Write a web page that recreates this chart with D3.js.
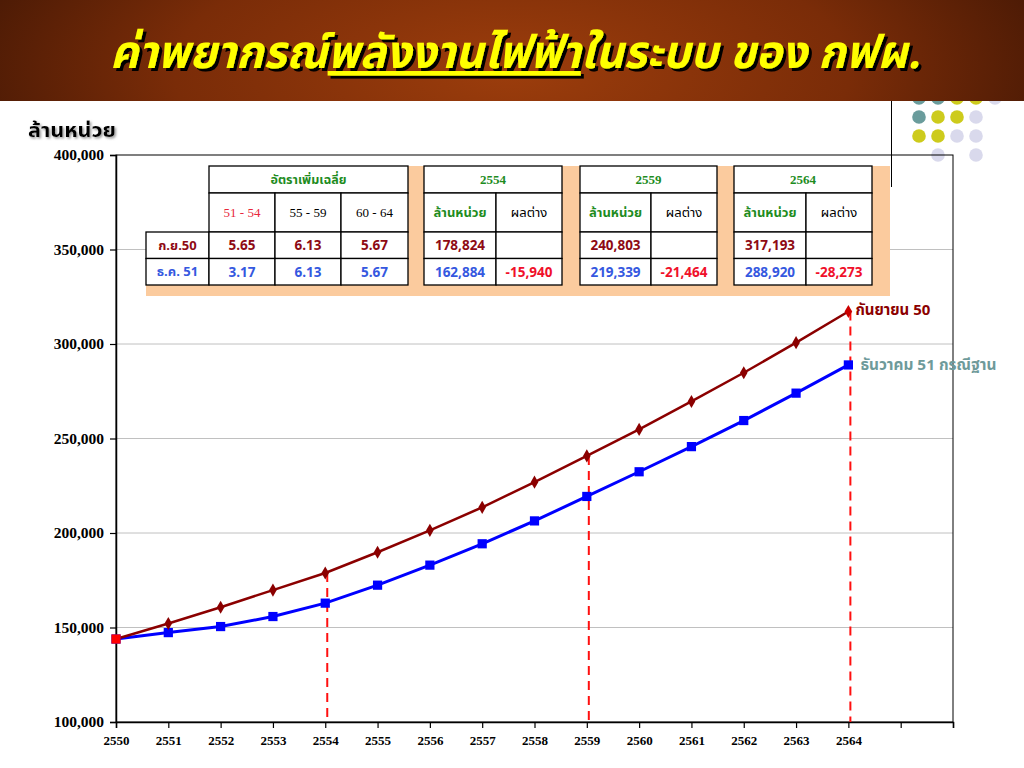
<!DOCTYPE html>
<html><head><meta charset="utf-8">
<script src="https://cdn.jsdelivr.net/npm/d3@7"></script>
<style>
body{margin:0;background:#fff}
svg{display:block}
.thai{font-family:Tahoma,"Noto Sans Thai","Noto Sans","DejaVu Sans",sans-serif}
.serif{font-family:"Liberation Serif","Times New Roman",serif}
</style>
</head><body>
<svg id="c" width="1024" height="768"></svg>
<script>
// ---------------- data ----------------
const years = [2550,2551,2552,2553,2554,2555,2556,2557,2558,2559,2560,2561,2562,2563,2564];
const sep50 = [143900,152100,160700,169800,178824,189800,201400,213600,226900,240803,254800,269600,284800,300700,317193];
const dec51 = [143900,147300,150500,155800,162884,172400,183000,194300,206400,219339,232400,245700,259500,274000,288920];
const yTicks = [100000,150000,200000,250000,300000,350000,400000];
const xTicks = [2550,2551,2552,2553,2554,2555,2556,2557,2558,2559,2560,2561,2562,2563,2564,2565,2566];
const markYears = [2554,2559,2564];
const seriesNames = ["กันยายน 50","ธันวาคม 51 กรณีฐาน"];

const rateTitle = "อัตราเพิ่มเฉลี่ย";
const rateHeaders = ["51 - 54","55 - 59","60 - 64"];
const rowLabels = ["ก.ย.50","ธ.ค. 51"];
const sepRates = ["5.65","6.13","5.67"];
const decRates = ["3.17","6.13","5.67"];
const snapYears = ["2554","2559","2564"];
const snapHeaders = ["ล้านหน่วย","ผลต่าง"];
const sepSnap = ["178,824","240,803","317,193"];
const decSnap = ["162,884","219,339","288,920"];
const diffSnap = ["-15,940","-21,464","-28,273"];

const titleParts = ["ค่าพยากรณ์","พลังงานไฟฟ้า","ในระบบ ของ กฟผ."];
const yUnit = "ล้านหน่วย";

// -------------- colours ---------------
const C = {
  sep:"#8B0000", dec:"#0000FF", dash:"#FF1010", grid:"#C0C0C0",
  green:"#1E8C1E", dred:"#8E0A14", blue:"#3558E0", red:"#F0102A",
  peach:"#FBCB9E", teal:"#6A9C9C", yel:"#CDCB1C", lav:"#D9D9EC", decLabel:"#6E9A9A"
};

const svg = d3.select("#c");
const defs = svg.append("defs");
const f1 = defs.append("filter").attr("id","tshadow").attr("x","-5%").attr("y","-20%").attr("width","110%").attr("height","140%");
f1.append("feDropShadow").attr("dx",3).attr("dy",3).attr("stdDeviation",0.6).attr("flood-color","#000").attr("flood-opacity",1);
const f2 = defs.append("filter").attr("id","ushadow").attr("x","-5%").attr("y","-20%").attr("width","110%").attr("height","140%");
f2.append("feDropShadow").attr("dx",1.5).attr("dy",1.5).attr("stdDeviation",0.8).attr("flood-color","#888").attr("flood-opacity",0.9);

// decoration dots (under the bar)
const dotCols = [919,938,957,976,995];
const dotRows = [98,117,136,155];
const dotMap = [
  ["teal","teal","yel","yel","lav"],
  ["teal","yel","yel","lav",null],
  ["yel","yel","lav","lav",null],
  [null,"lav",null,"lav",null]
];
const dg = svg.append("g");
dotMap.forEach((row,ri)=>row.forEach((c,ci)=>{
  if(c) dg.append("circle").attr("cx",dotCols[ci]).attr("cy",dotRows[ri]).attr("r",6.8).attr("fill",C[c]);
}));

// -------------- title bar --------------
const rg = defs.append("radialGradient").attr("id","bar").attr("cx","50%").attr("cy","55%").attr("r","60%")
  .attr("gradientTransform","translate(0.5,0.5) scale(1,4) translate(-0.5,-0.5)");
rg.append("stop").attr("offset","0%").attr("stop-color","#9C3D0C");
rg.append("stop").attr("offset","55%").attr("stop-color","#7A2C08");
rg.append("stop").attr("offset","100%").attr("stop-color","#3E1504");
svg.append("rect").attr("x",0).attr("y",0).attr("width",1024).attr("height",101).attr("fill","url(#bar)");

const title = svg.append("text").attr("class","thai")
  .attr("x",110).attr("y",68)
  .attr("font-size",46).attr("font-weight","bold").attr("font-style","italic")
  .attr("fill","#FFFF00").attr("filter","url(#tshadow)")
  .attr("textLength",810).attr("lengthAdjust","spacingAndGlyphs");
titleParts.forEach((p,i)=>{
  const ts = title.append("tspan").text(p);
  if(i===1) ts.attr("text-decoration","underline");
});

// -------------- chart --------------
const x = d3.scaleLinear().domain([2550,2566]).range([116,953]);
const y = d3.scaleLinear().domain([100000,400000]).range([722,155]);

const chart = svg.append("g");
chart.selectAll("line.grid").data(yTicks.filter(v=>v>100000 && v<400000)).join("line")
  .attr("x1",x(2550)).attr("x2",x(2566)).attr("y1",d=>y(d)).attr("y2",d=>y(d))
  .attr("stroke",C.grid).attr("stroke-width",1);
chart.append("rect").attr("x",x(2550)).attr("y",y(400000)).attr("width",x(2566)-x(2550)).attr("height",y(100000)-y(400000))
  .attr("fill","none").attr("stroke","#000").attr("stroke-width",1);

// decorative vertical line from slide template
svg.append("line").attr("x1",891.5).attr("x2",891.5).attr("y1",101).attr("y2",187).attr("stroke","#000").attr("stroke-width",1);

// axes
const yAxis = chart.append("g").attr("transform",`translate(${x(2550)},0)`)
  .call(d3.axisLeft(y).tickValues(yTicks).tickFormat(d3.format(",")).tickSize(6).tickPadding(6));
const xAxis = chart.append("g").attr("transform",`translate(0,${y(100000)})`)
  .call(d3.axisBottom(x).tickValues(xTicks).tickFormat(d=>d<=2564?String(d):"").tickSize(6).tickPadding(8));
[yAxis,xAxis].forEach(a=>{
  a.attr("font-family","'Liberation Serif','Times New Roman',serif");
  a.select(".domain").attr("stroke","#000").attr("stroke-width",1.5);
  a.selectAll(".tick line").attr("stroke","#000").attr("stroke-width",1.2);
  a.selectAll("text").attr("font-family","'Liberation Serif','Times New Roman',serif").attr("font-weight","bold").attr("fill","#000");
});
yAxis.selectAll("text").attr("font-size",15.5);
xAxis.selectAll("text").attr("font-size",13);

// dashed markers
chart.selectAll("line.dash").data(markYears).join("line")
  .attr("x1",d=>x(d)+2).attr("x2",d=>x(d)+2)
  .attr("y1",d=>y(sep50[years.indexOf(d)])).attr("y2",y(100000))
  .attr("stroke",C.dash).attr("stroke-width",2).attr("stroke-dasharray","9,6");

// lines
const line = d3.line().x((d,i)=>x(years[i])).y(d=>y(d));
chart.append("path").datum(dec51).attr("d",line).attr("fill","none").attr("stroke",C.dec).attr("stroke-width",3);
chart.append("path").datum(sep50).attr("d",line).attr("fill","none").attr("stroke",C.sep).attr("stroke-width",2.5);

const sq = d3.symbol().type(d3.symbolSquare).size(85);
const dia = d3.symbol().type(d3.symbolDiamond).size(50);
chart.selectAll("path.decm").data(dec51).join("path")
  .attr("transform",(d,i)=>`translate(${x(years[i])},${y(d)})`).attr("d",sq).attr("fill",C.dec);
chart.selectAll("path.sepm").data(sep50).join("path")
  .attr("transform",(d,i)=>`translate(${x(years[i])},${y(d)})`)
  .attr("d",(d,i)=> i===0 ? sq() : dia())
  .attr("fill",(d,i)=> i===0 ? "#FF0000" : (i===sep50.length-1 ? "#CC0000" : C.sep));

// end labels
const last = years.length-1;
chart.append("text").attr("class","thai").attr("x",x(years[last])+7).attr("y",y(sep50[last])+3)
  .attr("font-size",15).attr("font-weight","bold").attr("fill",C.sep).text(seriesNames[0]);
chart.append("text").attr("class","thai").attr("x",x(years[last])+12).attr("y",y(dec51[last])+5)
  .attr("font-size",15).attr("font-weight","bold").attr("fill",C.decLabel)
  .attr("textLength",136).attr("lengthAdjust","spacingAndGlyphs").text(seriesNames[1]);

// y unit label
svg.append("text").attr("class","thai").attr("x",28).attr("y",137).attr("font-size",20).attr("font-weight","bold")
  .attr("fill","#000").attr("filter","url(#ushadow)")
  .attr("textLength",88).attr("lengthAdjust","spacingAndGlyphs").text(yUnit);

// -------------- tables --------------
const tb = svg.append("g");
const rowY = [166,193,232,258.5,285];
tb.append("rect").attr("x",146).attr("y",166).attr("width",890-146).attr("height",296-166).attr("fill",C.peach);
tb.append("rect").attr("x",146).attr("y",166).attr("width",63).attr("height",66).attr("fill","#fff");

function cell(x0,y0,w,h,txt,opts){
  tb.append("rect").attr("x",x0).attr("y",y0).attr("width",w).attr("height",h)
    .attr("fill","#fff").attr("stroke","#000").attr("stroke-width",1.3);
  if(txt) tb.append("text").attr("class",opts.cls||"thai")
    .attr("x",x0+w/2).attr("y",y0+h/2).attr("dy","0.36em").attr("text-anchor","middle")
    .attr("font-size",opts.size||12.5).attr("font-weight",opts.bold?"bold":"normal")
    .attr("fill",opts.color||"#000").text(txt);
}
const t1c = [146,209,275,341,408];
cell(t1c[1],rowY[0],t1c[4]-t1c[1],rowY[1]-rowY[0],rateTitle,{bold:true,color:C.green,size:12.5});
rateHeaders.forEach((h,i)=>cell(t1c[i+1],rowY[1],t1c[i+2]-t1c[i+1],rowY[2]-rowY[1],h,{cls:"serif",size:13,color:i===0?"#E8283C":"#000"}));
cell(t1c[0],rowY[2],t1c[1]-t1c[0],rowY[3]-rowY[2],rowLabels[0],{bold:true,color:C.dred,size:13});
cell(t1c[0],rowY[3],t1c[1]-t1c[0],rowY[4]-rowY[3],rowLabels[1],{bold:true,color:C.blue,size:13});
sepRates.forEach((v,i)=>cell(t1c[i+1],rowY[2],t1c[i+2]-t1c[i+1],rowY[3]-rowY[2],v,{bold:true,color:C.dred,size:13.5}));
decRates.forEach((v,i)=>cell(t1c[i+1],rowY[3],t1c[i+2]-t1c[i+1],rowY[4]-rowY[3],v,{bold:true,color:C.blue,size:13.5}));
const snapX = [[424,496,562],[580,651,717],[734,806,872]];
snapYears.forEach((yr,k)=>{
  const [a,b,c] = snapX[k];
  cell(a,rowY[0],c-a,rowY[1]-rowY[0],yr,{cls:"serif",bold:true,color:C.green,size:13});
  cell(a,rowY[1],b-a,rowY[2]-rowY[1],snapHeaders[0],{bold:true,color:C.green,size:13});
  cell(b,rowY[1],c-b,rowY[2]-rowY[1],snapHeaders[1],{color:"#000",size:13});
  cell(a,rowY[2],b-a,rowY[3]-rowY[2],sepSnap[k],{bold:true,color:C.dred,size:13.5});
  cell(b,rowY[2],c-b,rowY[3]-rowY[2],"",{});
  cell(a,rowY[3],b-a,rowY[4]-rowY[3],decSnap[k],{bold:true,color:C.blue,size:13.5});
  cell(b,rowY[3],c-b,rowY[4]-rowY[3],diffSnap[k],{bold:true,color:C.red,size:13.5});
});
</script>
</body></html>
